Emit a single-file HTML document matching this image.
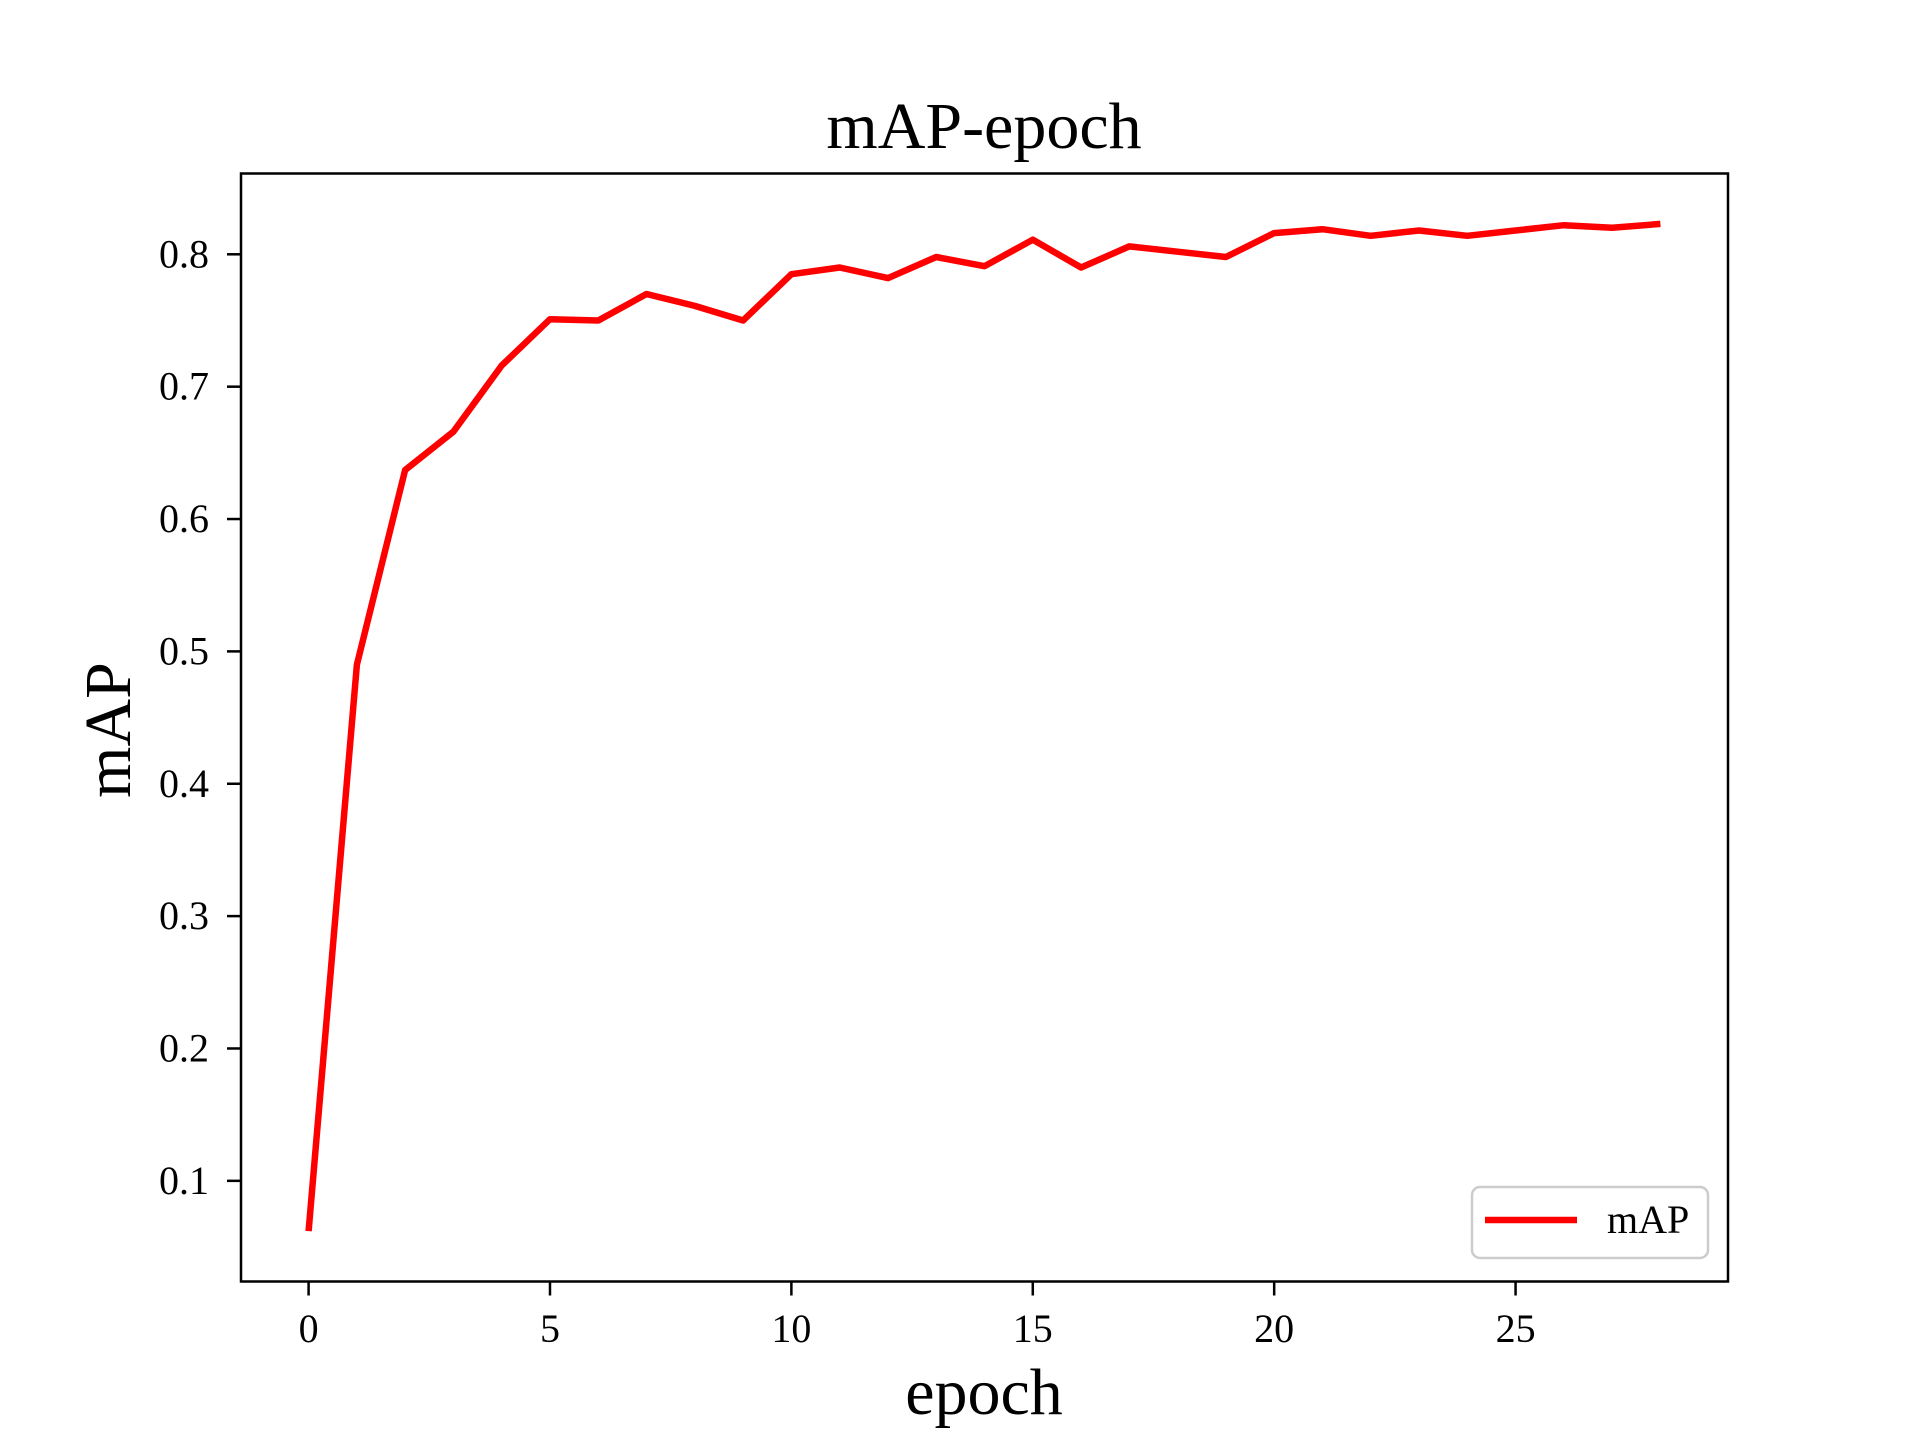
<!DOCTYPE html>
<html><head><meta charset="utf-8"><style>
html,body{margin:0;padding:0;background:#fff;}
svg{display:block;font-family:"Liberation Serif",serif;}
</style></head><body>
<svg id="chart" width="1920" height="1440" viewBox="0 0 1920 1440" xmlns="http://www.w3.org/2000/svg">
<rect width="1920" height="1440" fill="#fff"/>
<text x="984" y="148" font-size="66" text-anchor="middle">mAP-epoch</text>
<text x="984" y="1414" font-size="66" text-anchor="middle">epoch</text>
<text x="0" y="0" font-size="66" text-anchor="middle" transform="translate(130,730) rotate(-90)">mAP</text>
<g id="ticks"></g>
<g id="plot"></g>
<rect x="241" y="173.5" width="1487" height="1108" fill="none" stroke="#000" stroke-width="2.5"/>
<g>
<rect x="1472" y="1187" width="236" height="71" rx="8" fill="#fff" stroke="#ccc" stroke-width="2.5"/>
<line x1="1485" y1="1220" x2="1577" y2="1220" stroke="#ff0000" stroke-width="6.5"/>
<text x="1607" y="1233" font-size="40">mAP</text>
</g>
</svg>
<script>
const epochs = [0,1,2,3,4,5,6,7,8,9,10,11,12,13,14,15,16,17,18,19,20,21,22,23,24,25,26,27,28];
const mapValues = [0.062,0.490,0.637,0.666,0.716,0.751,0.750,0.770,0.761,0.750,0.785,0.790,0.782,0.798,0.791,0.811,0.790,0.806,0.802,0.798,0.816,0.819,0.814,0.818,0.814,0.818,0.822,0.820,0.823];
const xTicks = [0,5,10,15,20,25];
const yTicks = [0.1,0.2,0.3,0.4,0.5,0.6,0.7,0.8];
const yTickLabels = ["0.1","0.2","0.3","0.4","0.5","0.6","0.7","0.8"];

const NS = "http://www.w3.org/2000/svg";
const L = 241, R = 1728, T = 173.5, B = 1281.5;
const xmin = Math.min(...epochs), xmax = Math.max(...epochs);
const xpad = (xmax - xmin) * 0.05;
const ymin0 = Math.min(...mapValues), ymax0 = Math.max(...mapValues);
const ypad = (ymax0 - ymin0) * 0.05;
const x0 = xmin - xpad, x1 = xmax + xpad, y0 = ymin0 - ypad, y1 = ymax0 + ypad;
function xs(v){ return L + (v - x0) / (x1 - x0) * (R - L); }
function ys(v){ return B - (v - y0) / (y1 - y0) * (B - T); }

const tg = document.getElementById('ticks');
xTicks.forEach(t => {
  const ln = document.createElementNS(NS, 'line');
  ln.setAttribute('x1', xs(t)); ln.setAttribute('x2', xs(t));
  ln.setAttribute('y1', B); ln.setAttribute('y2', B + 14);
  ln.setAttribute('stroke', '#000'); ln.setAttribute('stroke-width', '2.5');
  
  
  tg.appendChild(ln);
  const tx = document.createElementNS(NS, 'text');
  tx.setAttribute('x', xs(t)); tx.setAttribute('y', 1342);
  tx.setAttribute('font-size', '40'); tx.setAttribute('text-anchor', 'middle');
  tx.textContent = String(t);
  
  
  tg.appendChild(tx);
});
yTicks.forEach((t, i) => {
  const ln = document.createElementNS(NS, 'line');
  ln.setAttribute('x1', L - 14); ln.setAttribute('x2', L);
  ln.setAttribute('y1', ys(t)); ln.setAttribute('y2', ys(t));
  ln.setAttribute('stroke', '#000'); ln.setAttribute('stroke-width', '2.5');
  
  
  tg.appendChild(ln);
  const tx = document.createElementNS(NS, 'text');
  tx.setAttribute('x', L - 32); tx.setAttribute('y', ys(t) + 13);
  tx.setAttribute('font-size', '40'); tx.setAttribute('text-anchor', 'end');
  tx.textContent = yTickLabels[i];
  
  
  tg.appendChild(tx);
});

const pg = document.getElementById('plot');
const pl = document.createElementNS(NS, 'polyline');
pl.setAttribute('points', epochs.map((e, i) => xs(e).toFixed(1) + ',' + ys(mapValues[i]).toFixed(1)).join(' '));
pl.setAttribute('fill', 'none'); pl.setAttribute('stroke', '#ff0000');
pl.setAttribute('stroke-width', '6.5'); pl.setAttribute('stroke-linejoin', 'round');


pg.appendChild(pl);
</script>
</body></html>
